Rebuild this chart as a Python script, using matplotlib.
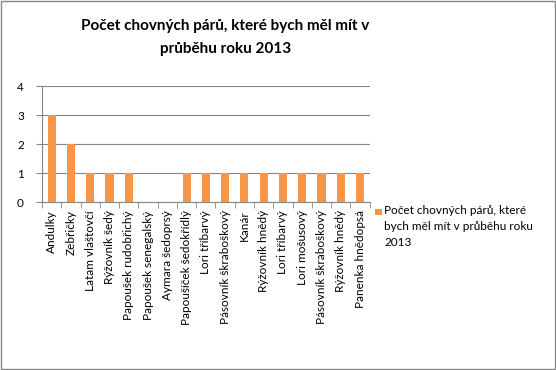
import matplotlib
matplotlib.use("Agg")
import matplotlib.pyplot as plt
from matplotlib.patches import Rectangle

# data
druhy = ["Andulky", "Zebřičky", "Latam vlaštovčí", "Rýžovník šedý",
         "Papoušek rudobřichý", "Papoušek senegalský", "Aymara šedoprsý",
         "Papoušíček šedokřídlý", "Lori tříbarvý", "Pásovník škraboškový",
         "Kanár", "Rýžovník hnědý", "Lori tříbarvý", "Lori mošusový",
         "Pásovník škraboškový", "Rýžovník hnědý", "Panenka hnědopsá"]
pocty = [3, 2, 1, 1, 1, 0, 0, 1, 1, 1, 1, 1, 1, 1, 1, 1, 1]
nazev = "Počet chovných párů, které bych měl mít v\nprůběhu roku 2013"

plt.rcParams['font.family'] = ['Lato', 'DejaVu Sans']
oranzova = '#F79646'
seda = '#868686'

fig = plt.figure(figsize=(5.56, 3.70), dpi=100)
fig.patches.append(Rectangle((0.002, 0.003), 0.996, 0.994, transform=fig.transFigure,
                             fill=False, edgecolor=seda, linewidth=1))

ax = fig.add_axes([0.0755, 0.454, 0.5895, 0.3135])
x = range(len(druhy))
ax.bar(x, pocty, width=0.42, color=oranzova, zorder=3)
ax.set_xlim(-0.5, len(druhy) - 0.5)
ax.set_ylim(0, 4)
ax.set_yticks([0, 1, 2, 3, 4])
ax.yaxis.grid(True, color=seda, linewidth=0.8, zorder=0)
ax.set_xticks(list(x))
ax.set_xticklabels(druhy, rotation=90, fontsize=8.5)
ax.tick_params(axis='y', labelsize=8.5, length=4, color=seda, pad=9)
ax.tick_params(axis='x', length=0, pad=6)
for s in ['top', 'right']:
    ax.spines[s].set_visible(False)
ax.spines['left'].set_color(seda)
ax.spines['bottom'].set_color(seda)
# ticks between categories
ax.set_xticks([i - 0.5 for i in range(len(druhy) + 1)], minor=True)
ax.tick_params(axis='x', which='minor', length=4, color=seda, direction='out')

fig.text(0.405, 0.899, nazev, ha='center', va='center', fontsize=11,
         fontweight='bold', linespacing=1.85)

# legend
fig.patches.append(Rectangle((0.6745, 0.418), 0.012, 0.018, transform=fig.transFigure,
                             facecolor=oranzova, edgecolor='none'))
fig.text(0.691, 0.447, "Počet chovných párů, které\nbych měl mít v průběhu roku\n2013",
         ha='left', va='top', fontsize=8.5, linespacing=1.6)

fig.savefig("out.png", dpi=100)
